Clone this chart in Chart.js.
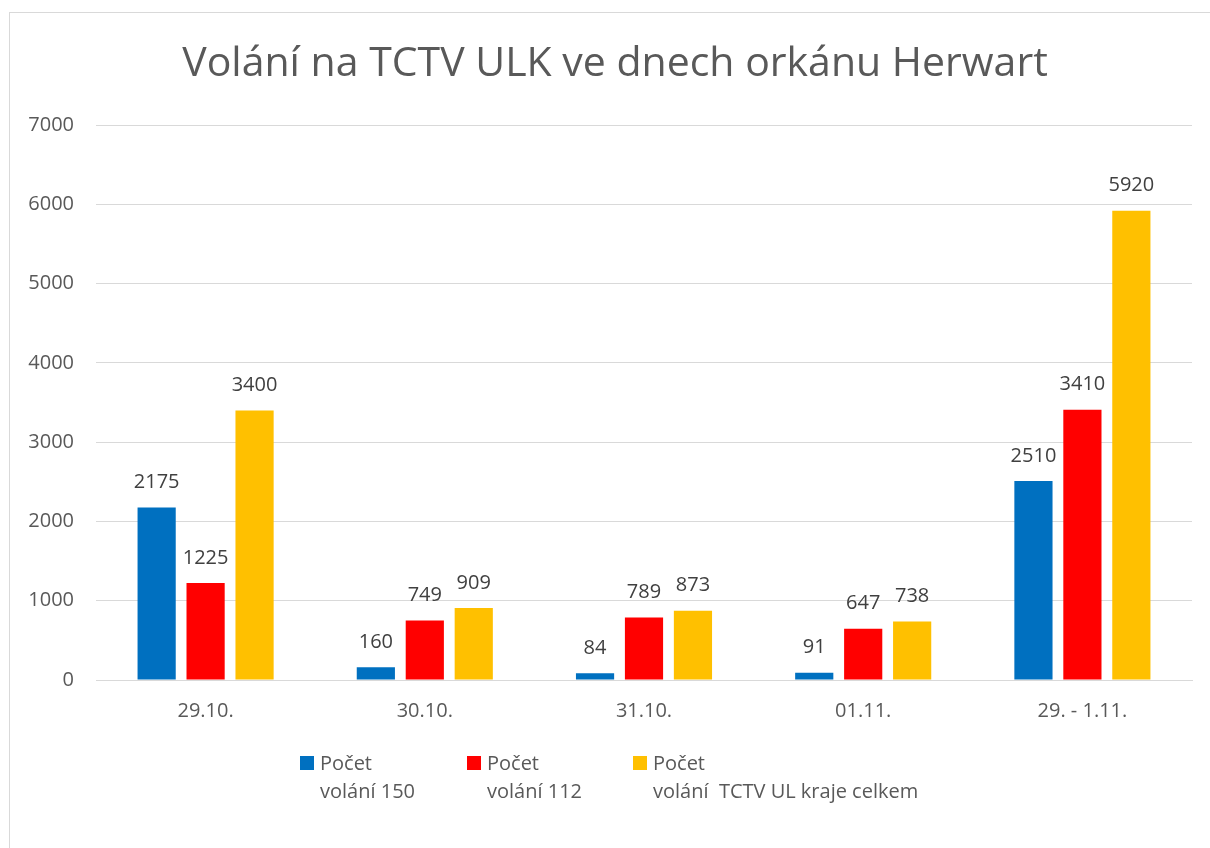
<!DOCTYPE html>
<html>
<head>
<meta charset="utf-8">
<script src="https://cdn.jsdelivr.net/npm/chart.js@4/dist/chart.umd.min.js"></script>
<style>
  body { margin: 0; background: #fff; }
  #wrap { position: relative; width: 1210px; height: 848px; }
  #frame { position: absolute; left: 9px; top: 12px; width: 1210px; height: 850px; border: 1px solid #d9d9d9; box-sizing: border-box; pointer-events: none; }
  #legend { position: absolute; left: 0; top: 0; font-family: "Open Sans", sans-serif; font-size: 20px; color: #595959; }
  .item { position: absolute; top: 749px; white-space: pre; line-height: 28px; }
  .box { position: absolute; left: -20px; top: 7px; width: 14px; height: 14px; }
</style>
</head>
<body>
<div id="wrap">
  <canvas id="chart" width="1210" height="848"></canvas>
  <div id="frame"></div>
  <div id="legend"></div>
</div>
<script>
const chartTitle = 'Volání na TCTV ULK ve dnech orkánu Herwart';
const categories = ['29.10.', '30.10.', '31.10.', '01.11.', '29. - 1.11.'];
const seriesNames = [
  ['Počet', 'volání 150'],
  ['Počet', 'volání 112'],
  ['Počet', 'volání  TCTV UL kraje celkem']
];
const calls150 = [2175, 160, 84, 91, 2510];
const calls112 = [1225, 749, 789, 647, 3410];
const callsTotal = [3400, 909, 873, 738, 5920];
const colors = ['#0070C0', '#FF0000', '#FFC000'];

const textColor = '#595959';
const fontFamily = '"Open Sans", sans-serif';

// title centred over the frame, not the canvas
const titlePlugin = {
  id: 'frameTitle',
  afterDraw(chart) {
    const ctx = chart.ctx;
    ctx.save();
    ctx.font = '41px ' + fontFamily;
    ctx.fillStyle = textColor;
    ctx.textAlign = 'center';
    ctx.textBaseline = 'middle';
    ctx.fillText(chartTitle, chart.width / 2 + 10, 64);
    ctx.restore();
  }
};

// draw the value above every bar
const valueLabels = {
  id: 'valueLabels',
  afterDatasetsDraw(chart) {
    const ctx = chart.ctx;
    ctx.save();
    ctx.font = '20px ' + fontFamily;
    ctx.fillStyle = '#404040';
    ctx.textAlign = 'center';
    ctx.textBaseline = 'middle';
    chart.data.datasets.forEach((ds, i) => {
      chart.getDatasetMeta(i).data.forEach((bar, j) => {
        ctx.fillText(ds.data[j], bar.x, bar.y - 25);
      });
    });
    ctx.restore();
  }
};

const ctx = document.getElementById('chart').getContext('2d');
const chart = new Chart(ctx, {
  type: 'bar',
  data: {
    labels: categories,
    datasets: [
      { label: seriesNames[0].join(' '), data: calls150, backgroundColor: colors[0] },
      { label: seriesNames[1].join(' '), data: calls112, backgroundColor: colors[1] },
      { label: seriesNames[2].join(' '), data: callsTotal, backgroundColor: colors[2] }
    ]
  },
  options: {
    responsive: false,
    animation: false,
    events: [],
    categoryPercentage: 0.67,
    barPercentage: 0.78,
    layout: { padding: { left: 10, right: 18, top: 125, bottom: 114 } },
    plugins: {
      legend: { display: false },
      tooltip: { enabled: false },
      title: { display: false }
    },
    scales: {
      x: {
        grid: { display: false },
        border: { color: '#d9d9d9' },
        ticks: { color: textColor, font: { family: fontFamily, size: 20 }, padding: 11 }
      },
      y: {
        min: 0,
        max: 7000,
        afterFit(scale) { scale.width = 86; },
        grid: { color: '#d9d9d9', drawTicks: false },
        border: { display: false },
        ticks: {
          stepSize: 1000,
          color: textColor,
          font: { family: fontFamily, size: 20 },
          padding: 22,
          callback: (v) => String(v)
        }
      }
    }
  },
  plugins: [valueLabels, titlePlugin]
});

// legend with two-line labels
const legendEl = document.getElementById('legend');
const legendX = [320, 487, 653];
seriesNames.forEach((lines, i) => {
  const item = document.createElement('div');
  item.className = 'item';
  item.style.left = legendX[i] + 'px';
  item.textContent = lines.join('\n');
  const box = document.createElement('span');
  box.className = 'box';
  box.style.background = colors[i];
  item.appendChild(box);
  legendEl.appendChild(item);
});
</script>
</body>
</html>
